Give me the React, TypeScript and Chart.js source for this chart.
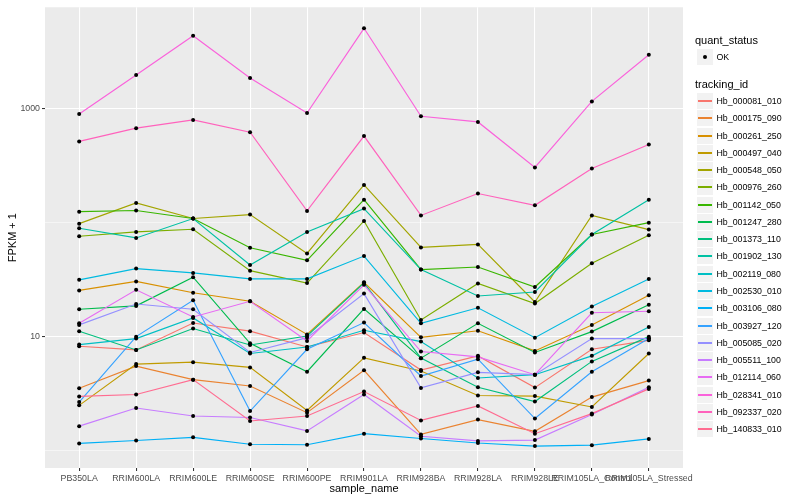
import React, { useEffect, useRef } from "react";
import { Chart, registerables } from "chart.js";

Chart.register(...registerables);

const sampleNames = [
  "PB350LA", "RRIM600LA", "RRIM600LE", "RRIM600SE", "RRIM600PE", "RRIM901LA",
  "RRIM928BA", "RRIM928LA", "RRIM928LE", "RRIM105LA_Control", "RRIM105LA_Stressed",
];

const trackingIds = [
  "Hb_000081_010", "Hb_000175_090", "Hb_000261_250", "Hb_000497_040", "Hb_000548_050",
  "Hb_000976_260", "Hb_001142_050", "Hb_001247_280", "Hb_001373_110", "Hb_001902_130",
  "Hb_002119_080", "Hb_002530_010", "Hb_003106_080", "Hb_003927_120", "Hb_005085_020",
  "Hb_005511_100", "Hb_012114_060", "Hb_028341_010", "Hb_092337_020", "Hb_140833_010",
];

// FPKM + 1 per sample (same order as sampleNames)
const hb_000081_010 = [8.18, 7.6, 13.1, 11.1, 8.07, 10.8, 5.06, 6.74, 3.55, 7.7, 9.23];
const hb_000175_090 = [3.51, 5.48, 4.17, 3.67, 2.14, 5.03, 1.38, 1.86, 1.47, 2.93, 4.09];
const hb_000261_250 = [25.3, 30.3, 24.1, 20.3, 10.4, 29.8, 9.8, 11.2, 7.45, 12.6, 22.9];
const hb_000497_040 = [2.48, 5.71, 5.94, 5.34, 2.24, 6.48, 4.96, 3.03, 2.99, 2.4, 7.07];
const hb_000548_050 = [97.4, 148, 108, 117, 53.4, 213, 60.3, 64.0, 20.0, 115, 86.4];
const hb_000976_260 = [75.5, 82.4, 86.9, 37.7, 29.3, 103, 13.9, 29.1, 19.4, 43.7, 77.1];
const hb_001142_050 = [124, 127, 108, 59.8, 46.4, 158, 38.5, 40.6, 27.1, 78.2, 99.4];
const hb_001247_280 = [17.3, 18.5, 33.0, 8.69, 4.89, 17.4, 6.44, 13.0, 7.22, 11.0, 18.9];
const hb_001373_110 = [11.1, 7.6, 11.7, 8.4, 10.06, 29.5, 6.44, 3.58, 2.68, 6.03, 9.94];
const hb_001902_130 = [88.7, 73.0, 108, 42.3, 82.4, 132, 38.5, 22.6, 24.5, 78.2, 158];
const hb_002119_080 = [8.47, 9.55, 14.5, 7.07, 8.07, 11.3, 8.99, 4.31, 4.61, 6.74, 12.1];
const hb_002530_010 = [31.3, 39.3, 36.0, 31.9, 31.9, 50.6, 13.0, 17.8, 9.74, 18.3, 31.8];
const hb_003106_080 = [1.15, 1.22, 1.3, 1.13, 1.12, 1.4, 1.27, 1.16, 1.09, 1.11, 1.26];
const hb_003927_120 = [2.65, 9.94, 20.7, 2.21, 7.7, 13.2, 4.49, 6.31, 1.9, 4.89, 9.55];
const hb_005085_020 = [12.6, 19.2, 17.3, 7.22, 9.74, 23.7, 3.53, 4.83, 4.61, 9.55, 9.55];
const hb_005511_100 = [1.63, 2.35, 2.0, 1.94, 1.48, 3.09, 1.33, 1.21, 1.23, 2.06, 3.58];
const hb_012114_060 = [13.0, 25.6, 14.8, 20.3, 9.1, 28.3, 7.36, 6.61, 4.61, 16.1, 16.6];
const hb_028341_010 = [892, 1963, 4335, 1849, 910, 5035, 851, 760, 303, 1151, 2951];
const hb_092337_020 = [513, 670, 791, 618, 126, 571, 115, 179, 141, 297, 482];
const hb_140833_010 = [2.97, 3.09, 4.17, 1.81, 2.0, 3.28, 1.83, 2.45, 1.4, 2.1, 3.46];

const seriesValues = [
  hb_000081_010, hb_000175_090, hb_000261_250, hb_000497_040, hb_000548_050,
  hb_000976_260, hb_001142_050, hb_001247_280, hb_001373_110, hb_001902_130,
  hb_002119_080, hb_002530_010, hb_003106_080, hb_003927_120, hb_005085_020,
  hb_005511_100, hb_012114_060, hb_028341_010, hb_092337_020, hb_140833_010,
];

const yTickValues = [1, 10, 100, 1000];
const yTickLabels = ["", "10", "", "1000"];
const yMajor = [false, true, false, true];

const palette = [
  "#F8766D", "#EA8331", "#D89000", "#C09B00", "#A3A500", "#7CAE00", "#39B600",
  "#00BB4E", "#00BF7D", "#00C1A3", "#00BFC4", "#00BAE0", "#00B0F6", "#35A2FF",
  "#9590FF", "#C77CFF", "#E76BF3", "#FA62DB", "#FF62BC", "#FF6C91",
];

const FONT = '"Liberation Sans", Arial, Helvetica, sans-serif';

export default function App() {
  const ref = useRef<HTMLCanvasElement>(null);

  useEffect(() => {
    if (!ref.current) return;
    const panelBg = {
      id: "panelBg",
      beforeDraw(chart: any) {
        const { ctx, chartArea: a } = chart;
        ctx.save();
        ctx.fillStyle = "#EBEBEB";
        ctx.fillRect(a.left, a.top, a.right - a.left, a.bottom - a.top);
        ctx.restore();
      },
    };

    const lineSets = seriesValues.map((vals, i) => ({
      label: trackingIds[i],
      data: vals.map((v, j) => ({ x: j, y: v })),
      borderColor: palette[i],
      backgroundColor: palette[i],
      borderWidth: 1.15,
      pointRadius: 0,
      tension: 0,
      order: 100 - i,
    }));
    const pointSets = seriesValues.map((vals, i) => ({
      label: trackingIds[i] + " OK",
      data: vals.map((v, j) => ({ x: j, y: v })),
      showLine: false,
      pointRadius: 2,
      pointBackgroundColor: "#000000",
      pointBorderWidth: 0,
      borderColor: "#000000",
      order: 0,
    }));

    const chart = new Chart(ref.current, {
      type: "line",
      data: { datasets: [...lineSets, ...pointSets] as any },
      plugins: [panelBg],
      options: {
        responsive: false,
        animation: false,
        layout: { padding: { top: 5, right: 117, left: 0, bottom: 0 } },
        plugins: { legend: { display: false }, tooltip: { enabled: false } },
        scales: {
          x: {
            type: "linear",
            min: -0.6,
            max: 10.6,
            afterBuildTicks: (s: any) => {
              s.ticks = sampleNames.map((_, i) => ({ value: i }));
            },
            afterFit: (s: any) => {
              s.height = 32;
            },
            ticks: {
              autoSkip: false,
              maxRotation: 0,
              minRotation: 0,
              padding: 2,
              color: "#4D4D4D",
              font: { size: 8.8, family: FONT },
              callback: (v: any) => sampleNames[v] ?? "",
            },
            grid: {
              color: "#FFFFFF",
              lineWidth: 1.07,
              tickLength: 3,
              tickColor: "#333333",
              tickWidth: 1.07,
            },
            border: { display: false },
            title: {
              display: true,
              text: "sample_name",
              color: "#000000",
              font: { size: 11, family: FONT },
              padding: { top: 0, bottom: 4 },
            },
          },
          y: {
            type: "logarithmic",
            min: 0.726,
            max: 7700,
            afterBuildTicks: (s: any) => {
              s.ticks = yTickValues.map((v) => ({ value: v }));
            },
            afterFit: (s: any) => {
              s.width = 45;
            },
            ticks: {
              autoSkip: false,
              padding: 2,
              color: "#4D4D4D",
              font: { size: 8.8, family: FONT },
              callback: (v: any) => {
                const k = yTickValues.indexOf(Number(v));
                return k >= 0 ? yTickLabels[k] : "";
              },
            },
            grid: {
              color: "#FFFFFF",
              lineWidth: (c: any) => (yMajor[c.index] ? 1.07 : 0.53),
              tickLength: 3,
              tickColor: (c: any) => (yMajor[c.index] ? "#333333" : "rgba(0,0,0,0)"),
              tickWidth: 1.07,
            },
            border: { display: false },
            title: {
              display: true,
              text: "FPKM + 1",
              color: "#000000",
              font: { size: 11, family: FONT },
              padding: { top: 6, bottom: 0 },
            },
          },
        },
      } as any,
    });
    return () => chart.destroy();
  }, []);

  const itemTop = 101;
  const itemStep = 17.27;

  return (
    <div style={{ position: "absolute", left: 0, top: 0, width: 800, height: 500, background: "#FFFFFF", fontFamily: FONT }}>
      <canvas ref={ref} width={800} height={500} style={{ display: "block", width: 800, height: 500 }} />
      <div style={{ position: "absolute", left: 695, top: 34, fontSize: 11, lineHeight: "13px", color: "#000" }}>quant_status</div>
      <div style={{ position: "absolute", left: 697, top: 49, width: 16, height: 16, background: "#F2F2F2" }}>
        <div style={{ position: "absolute", left: 6, top: 6, width: 4, height: 4, borderRadius: "50%", background: "#000" }} />
      </div>
      <div style={{ position: "absolute", left: 716.5, top: 52, fontSize: 8.8, lineHeight: "10px", color: "#000" }}>OK</div>
      <div style={{ position: "absolute", left: 695, top: 78, fontSize: 11, lineHeight: "13px", color: "#000" }}>tracking_id</div>
      {trackingIds.map((id, i) => {
        const cy = itemTop + itemStep * i;
        return (
          <React.Fragment key={id}>
            <div style={{ position: "absolute", left: 697, top: Math.round(cy - 8), width: 16, height: 16, background: "#F2F2F2" }}>
              <div style={{ position: "absolute", left: 1, width: 14, top: 7, height: 1.5, background: palette[i] }} />
            </div>
            <div style={{ position: "absolute", left: 716.5, top: cy - 5, fontSize: 8.8, lineHeight: "10px", color: "#000", whiteSpace: "nowrap" }}>{id}</div>
          </React.Fragment>
        );
      })}
    </div>
  );
}
